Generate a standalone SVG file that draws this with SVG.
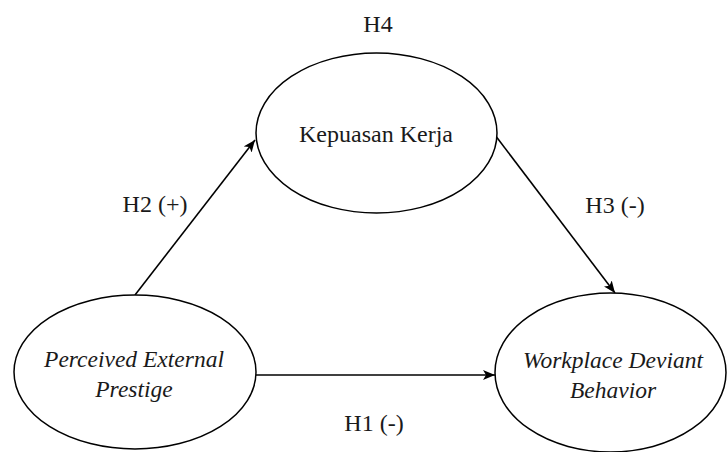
<svg xmlns="http://www.w3.org/2000/svg" width="727" height="452" viewBox="0 0 727 452">
<style>
.n{fill:#fff;stroke:#000;stroke-width:1.5}
.t{font-family:'Liberation Serif','Times New Roman',serif;font-size:24px;fill:#1a1a1a;text-anchor:middle}
.i{font-style:italic;font-size:23.5px}
.c{stroke:#000;stroke-width:1.6;fill:none;marker-end:url(#ah)}
</style>
<defs>
<marker id="ah" viewBox="0 0 12 10" refX="12" refY="5" markerWidth="12" markerHeight="10" markerUnits="userSpaceOnUse" orient="auto">
<path d="M0,0 L12,5 L0,10 L3,5 Z" fill="#000"/>
</marker>
</defs>
<rect width="727" height="452" fill="#fff"/>
<g id="connectors">
<line class="c" x1="135" y1="295" x2="255" y2="140"/>
<line class="c" x1="495" y1="135" x2="615" y2="293"/>
<line class="c" x1="256" y1="375" x2="495" y2="375"/>
</g>
<g id="kepuasan">
<ellipse class="n" cx="376.5" cy="133" rx="120.5" ry="80"/>
<text class="t" x="376" y="142">Kepuasan Kerja</text>
</g>
<g id="pep">
<ellipse class="n" cx="135" cy="372" rx="121" ry="77"/>
<text class="t i" x="134" y="367">Perceived External</text>
<text class="t i" x="134" y="397">Prestige</text>
</g>
<g id="wdb">
<ellipse class="n" cx="610.5" cy="372.5" rx="115.5" ry="79.5"/>
<text class="t i" x="613" y="368">Workplace Deviant</text>
<text class="t i" x="613" y="398">Behavior</text>
</g>
<g id="labels">
<text class="t" x="378" y="32">H4</text>
<text class="t" x="155" y="212">H2 (+)</text>
<text class="t" x="615" y="213">H3 (-)</text>
<text class="t" x="374" y="431">H1 (-)</text>
</g>
</svg>
